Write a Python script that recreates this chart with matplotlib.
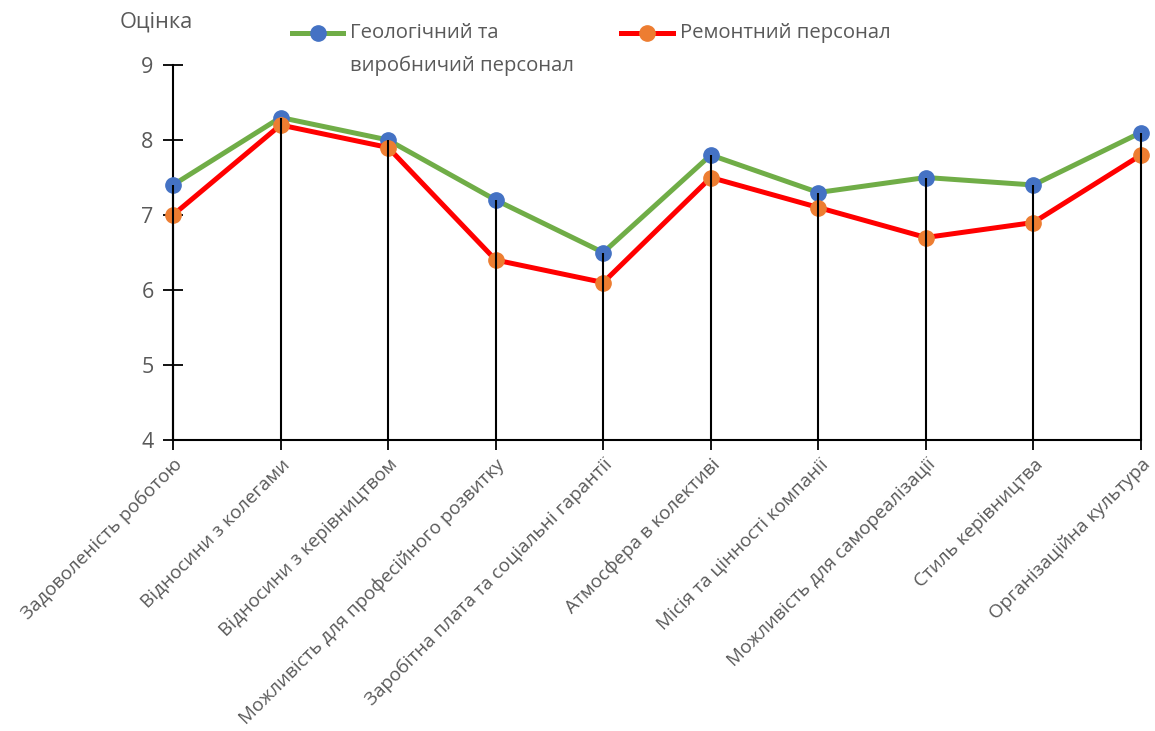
import matplotlib
matplotlib.use("Agg")
import matplotlib.pyplot as plt
from matplotlib.lines import Line2D
import numpy as np

plt.rcParams['font.family'] = ['Open Sans', 'DejaVu Sans']

categories = ["Задоволеність роботою", "Відносини з колегами", "Відносини з керівництвом",
              "Можливість для професійного розвитку", "Заробітна плата та соціальні гарантії",
              "Атмосфера в колективі", "Місія та цінності компанії", "Можливість для самореалізації",
              "Стиль керівництва", "Організаційна культура"]
geo = [7.4, 8.3, 8.0, 7.2, 6.5, 7.8, 7.3, 7.5, 7.4, 8.1]
rem = [7.0, 8.2, 7.9, 6.4, 6.1, 7.5, 7.1, 6.7, 6.9, 7.8]
series_names = ["Геологічний та\nвиробничий персонал", "Ремонтний персонал"]
y_label = "Оцінка"
y_ticks = [4, 5, 6, 7, 8, 9]

W, H = 1155, 731
fig = plt.figure(figsize=(W / 100, H / 100), dpi=100)
ax = fig.add_axes([173 / W, 1 - 440 / H, (1141 - 173) / W, (440 - 65) / H])

x = np.arange(len(categories))
tc = '#595959'
ax.plot(x, geo, color='#70AD47', lw=3.6, marker='o', ms=11, mfc='#4472C4', mec='#4472C4', zorder=3, clip_on=False)
ax.plot(x, rem, color='#FF0000', lw=3.6, marker='o', ms=11, mfc='#ED7D31', mec='#ED7D31', zorder=4, clip_on=False)
top = np.maximum(geo, rem)
ax.vlines(x, 4, top, color='black', lw=1.5, zorder=5, clip_on=False)

ax.set_xlim(0, len(categories) - 1)
ax.set_ylim(4, 9)
ax.set_yticks(y_ticks)
ax.set_xticks(x)
ax.set_xticklabels(categories, rotation=45, ha='right', rotation_mode='anchor', fontsize=13.6, color=tc)
ax.tick_params(axis='y', direction='inout', length=14, width=1.3, labelsize=15.5, labelcolor=tc, pad=7)
ax.tick_params(axis='x', direction='inout', length=14, width=1.3, pad=4)
for s in ['top', 'right']:
    ax.spines[s].set_visible(False)
for s in ['left', 'bottom']:
    ax.spines[s].set_linewidth(1.5)
    ax.spines[s].set_color('black')

fig.text(120 / W, 1 - 22 / H, y_label, fontsize=15.7, color=tc, va='center', ha='left')

# legend
def leg(x0, x1, y, lc, mc, label):
    yf = 1 - y / H
    fig.add_artist(Line2D([x0 / W, x1 / W], [yf, yf], color=lc, lw=3.6, transform=fig.transFigure))
    fig.add_artist(Line2D([(x0 + x1) / 2 / W], [yf], marker='o', ms=11, color=mc, transform=fig.transFigure))
    for i, line in enumerate(label.split('\n')):
        fig.text((x1 + 7) / W, 1 - (y + 33 * i) / H, line, fontsize=14.6, color=tc, va='center', ha='left')

leg(292, 343, 33, '#70AD47', '#4472C4', series_names[0])
leg(621, 673, 33, '#FF0000', '#ED7D31', series_names[1])

fig.savefig('out.png', dpi=100)
